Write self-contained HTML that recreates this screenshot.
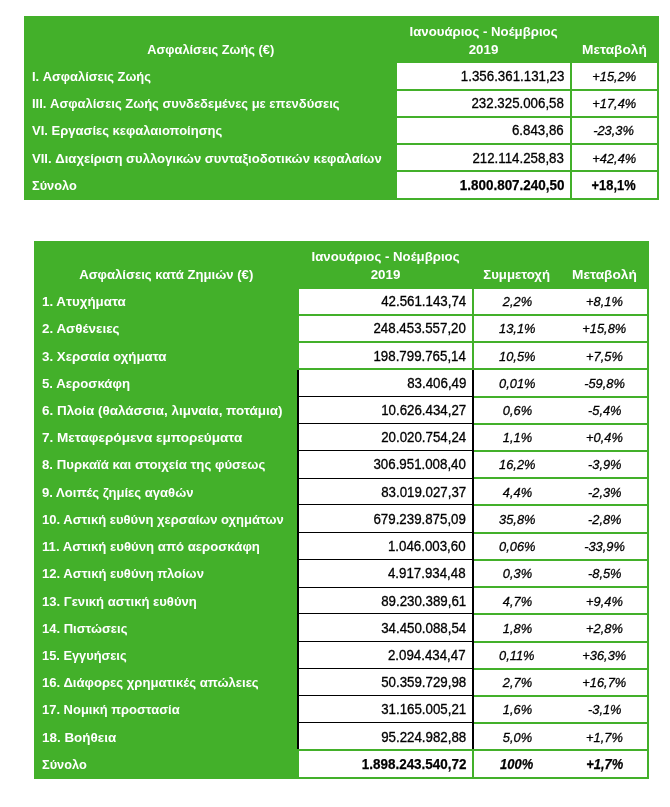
<!DOCTYPE html>
<html lang="el">
<head>
<meta charset="utf-8">
<title>Ασφαλίσεις</title>
<style>
html,body{margin:0;padding:0;background:#fff;}
body{width:670px;height:807px;position:relative;overflow:hidden;
 font-family:"Liberation Sans",sans-serif;font-size:13.3px;line-height:16px;color:#000;}
.g{position:absolute;background:#43B02A;}
.w{position:absolute;background:#fff;}
.k{position:absolute;background:#000;}
.t{position:absolute;white-space:nowrap;height:16px;}
.t span{display:inline-block;white-space:nowrap;}
.lb{color:#fff;font-weight:bold;text-align:left;}
.lb span{transform-origin:0 50%;}
.hd{color:#fff;font-weight:bold;text-align:center;}
.hd span{transform-origin:50% 50%;}
.n{text-align:right;font-size:13.8px;-webkit-text-stroke:0.3px #000;}
.n span{transform-origin:100% 50%;transform:scaleX(0.964);}
.p{text-align:center;font-style:italic;font-size:13.6px;-webkit-text-stroke:0.3px #000;}
.p span{transform-origin:50% 50%;transform:scaleX(0.945);}
.b{font-weight:bold;font-style:normal;font-size:13.8px;-webkit-text-stroke:0.25px #000;}
.n.b span{transform:scaleX(0.974);}
.p.b span{transform:scaleX(0.932);}
.bi{font-weight:bold;font-size:13.8px;-webkit-text-stroke:0.25px #000;}
.p.bi span{transform:scaleX(0.937);}
</style>
</head>
<body>

<div class="g" style="left:24px;top:16px;width:635px;height:184px"></div>
<div class="w" style="left:397px;top:63px;width:173px;height:26px"></div>
<div class="w" style="left:572px;top:63px;width:85px;height:26px"></div>
<div class="w" style="left:397px;top:91px;width:173px;height:25px"></div>
<div class="w" style="left:572px;top:91px;width:85px;height:25px"></div>
<div class="w" style="left:397px;top:118px;width:173px;height:25px"></div>
<div class="w" style="left:572px;top:118px;width:85px;height:25px"></div>
<div class="w" style="left:397px;top:145px;width:173px;height:25px"></div>
<div class="w" style="left:572px;top:145px;width:85px;height:25px"></div>
<div class="w" style="left:397px;top:172px;width:173px;height:26px"></div>
<div class="w" style="left:572px;top:172px;width:85px;height:26px"></div>
<div class="t hd" style="left:24px;top:42px;width:373px"><span style="transform:scaleX(0.9648)">Ασφαλίσεις Ζωής (€)</span></div>
<div class="t hd" style="left:397px;top:24px;width:173px"><span style="transform:scaleX(0.9932)">Ιανουάριος - Νοέμβριος</span></div>
<div class="t hd" style="left:397px;top:42px;width:173px"><span>2019</span></div>
<div class="t hd" style="left:571px;top:42px;width:87px"><span style="transform:scaleX(1.0304)">Μεταβολή</span></div>
<div class="t lb" style="left:32px;top:69px;width:362px"><span style="transform:scaleX(0.9693)">I. Ασφαλίσεις Ζωής</span></div>
<div class="t n" style="left:397px;top:69px;width:167px"><span>1.356.361.131,23</span></div>
<div class="t p" style="left:571px;top:69px;width:86px"><span>+15,2%</span></div>
<div class="t lb" style="left:32px;top:96px;width:362px"><span style="transform:scaleX(0.9755)">III. Ασφαλίσεις Ζωής συνδεδεμένες με επενδύσεις</span></div>
<div class="t n" style="left:397px;top:96px;width:167px"><span>232.325.006,58</span></div>
<div class="t p" style="left:571px;top:96px;width:86px"><span>+17,4%</span></div>
<div class="t lb" style="left:32px;top:123px;width:362px"><span style="transform:scaleX(0.9785)">VI. Εργασίες κεφαλαιοποίησης</span></div>
<div class="t n" style="left:397px;top:123px;width:167px"><span>6.843,86</span></div>
<div class="t p" style="left:571px;top:123px;width:86px"><span>-23,3%</span></div>
<div class="t lb" style="left:32px;top:151px;width:362px"><span style="transform:scaleX(0.9847)">VII. Διαχείριση συλλογικών συνταξιοδοτικών κεφαλαίων</span></div>
<div class="t n" style="left:397px;top:151px;width:167px"><span>212.114.258,83</span></div>
<div class="t p" style="left:571px;top:151px;width:86px"><span>+42,4%</span></div>
<div class="t lb" style="left:32px;top:178px;width:362px"><span style="transform:scaleX(0.9615)">Σύνολο</span></div>
<div class="t n b" style="left:397px;top:178px;width:167px"><span>1.800.807.240,50</span></div>
<div class="t p b" style="left:571px;top:178px;width:86px"><span>+18,1%</span></div>
<div class="g" style="left:34px;top:241px;width:615px;height:538px"></div>
<div class="w" style="left:299px;top:289px;width:173px;height:25px"></div>
<div class="w" style="left:474px;top:289px;width:173px;height:25px"></div>
<div class="w" style="left:299px;top:316px;width:173px;height:25px"></div>
<div class="w" style="left:474px;top:316px;width:173px;height:25px"></div>
<div class="w" style="left:299px;top:343px;width:173px;height:25px"></div>
<div class="w" style="left:474px;top:343px;width:173px;height:25px"></div>
<div class="w" style="left:299px;top:370px;width:173px;height:379px"></div>
<div class="w" style="left:474px;top:370px;width:173px;height:26px"></div>
<div class="w" style="left:474px;top:398px;width:173px;height:25px"></div>
<div class="w" style="left:474px;top:425px;width:173px;height:25px"></div>
<div class="w" style="left:474px;top:452px;width:173px;height:25px"></div>
<div class="w" style="left:474px;top:479px;width:173px;height:25px"></div>
<div class="w" style="left:474px;top:506px;width:173px;height:26px"></div>
<div class="w" style="left:474px;top:534px;width:173px;height:25px"></div>
<div class="w" style="left:474px;top:561px;width:173px;height:25px"></div>
<div class="w" style="left:474px;top:588px;width:173px;height:25px"></div>
<div class="w" style="left:474px;top:615px;width:173px;height:26px"></div>
<div class="w" style="left:474px;top:643px;width:173px;height:25px"></div>
<div class="w" style="left:474px;top:670px;width:173px;height:25px"></div>
<div class="w" style="left:474px;top:697px;width:173px;height:25px"></div>
<div class="w" style="left:474px;top:724px;width:173px;height:25px"></div>
<div class="w" style="left:299px;top:751px;width:173px;height:26px"></div>
<div class="w" style="left:474px;top:751px;width:173px;height:26px"></div>
<div class="k" style="left:297px;top:370px;width:2px;height:379px"></div>
<div class="k" style="left:472px;top:370px;width:2px;height:379px"></div>
<div class="k" style="left:299px;top:396px;width:173px;height:1px"></div>
<div class="k" style="left:299px;top:423px;width:173px;height:1px"></div>
<div class="k" style="left:299px;top:450px;width:173px;height:1px"></div>
<div class="k" style="left:299px;top:478px;width:173px;height:1px"></div>
<div class="k" style="left:299px;top:504px;width:173px;height:1px"></div>
<div class="k" style="left:299px;top:532px;width:173px;height:1px"></div>
<div class="k" style="left:299px;top:559px;width:173px;height:1px"></div>
<div class="k" style="left:299px;top:587px;width:173px;height:1px"></div>
<div class="k" style="left:299px;top:613px;width:173px;height:1px"></div>
<div class="k" style="left:299px;top:641px;width:173px;height:1px"></div>
<div class="k" style="left:299px;top:668px;width:173px;height:1px"></div>
<div class="k" style="left:299px;top:695px;width:173px;height:1px"></div>
<div class="k" style="left:299px;top:722px;width:173px;height:1px"></div>
<div class="t hd" style="left:34px;top:267px;width:265px"><span style="transform:scaleX(0.9868)">Ασφαλίσεις κατά Ζημιών (€)</span></div>
<div class="t hd" style="left:299px;top:249px;width:173px"><span style="transform:scaleX(0.9932)">Ιανουάριος - Νοέμβριος</span></div>
<div class="t hd" style="left:299px;top:267px;width:173px"><span>2019</span></div>
<div class="t hd" style="left:474px;top:267px;width:86px"><span style="transform:scaleX(0.9926)">Συμμετοχή</span></div>
<div class="t hd" style="left:560px;top:267px;width:88px"><span style="transform:scaleX(1.0304)">Μεταβολή</span></div>
<div class="t lb" style="left:42px;top:294px;width:254px"><span style="transform:scaleX(1.0047)">1. Ατυχήματα</span></div>
<div class="t n" style="left:299px;top:294px;width:167px"><span>42.561.143,74</span></div>
<div class="t p" style="left:474px;top:294px;width:86px"><span>2,2%</span></div>
<div class="t p" style="left:561px;top:294px;width:87px"><span>+8,1%</span></div>
<div class="t lb" style="left:42px;top:321px;width:254px"><span style="transform:scaleX(1.009)">2. Ασθένειες</span></div>
<div class="t n" style="left:299px;top:321px;width:167px"><span>248.453.557,20</span></div>
<div class="t p" style="left:474px;top:321px;width:86px"><span>13,1%</span></div>
<div class="t p" style="left:561px;top:321px;width:87px"><span>+15,8%</span></div>
<div class="t lb" style="left:42px;top:349px;width:254px"><span>3. Χερσαία οχήματα</span></div>
<div class="t n" style="left:299px;top:349px;width:167px"><span>198.799.765,14</span></div>
<div class="t p" style="left:474px;top:349px;width:86px"><span>10,5%</span></div>
<div class="t p" style="left:561px;top:349px;width:87px"><span>+7,5%</span></div>
<div class="t lb" style="left:42px;top:376px;width:254px"><span style="transform:scaleX(0.9951)">5. Αεροσκάφη</span></div>
<div class="t n" style="left:299px;top:376px;width:167px"><span>83.406,49</span></div>
<div class="t p" style="left:474px;top:376px;width:86px"><span>0,01%</span></div>
<div class="t p" style="left:561px;top:376px;width:87px"><span>-59,8%</span></div>
<div class="t lb" style="left:42px;top:403px;width:254px"><span style="transform:scaleX(1.0116)">6. Πλοία (θαλάσσια, λιμναία, ποτάμια)</span></div>
<div class="t n" style="left:299px;top:403px;width:167px"><span>10.626.434,27</span></div>
<div class="t p" style="left:474px;top:403px;width:86px"><span>0,6%</span></div>
<div class="t p" style="left:561px;top:403px;width:87px"><span>-5,4%</span></div>
<div class="t lb" style="left:42px;top:430px;width:254px"><span style="transform:scaleX(1.0198)">7. Μεταφερόμενα εμπορεύματα</span></div>
<div class="t n" style="left:299px;top:430px;width:167px"><span>20.020.754,24</span></div>
<div class="t p" style="left:474px;top:430px;width:86px"><span>1,1%</span></div>
<div class="t p" style="left:561px;top:430px;width:87px"><span>+0,4%</span></div>
<div class="t lb" style="left:42px;top:457px;width:254px"><span style="transform:scaleX(0.9925)">8. Πυρκαϊά και στοιχεία της φύσεως</span></div>
<div class="t n" style="left:299px;top:457px;width:167px"><span>306.951.008,40</span></div>
<div class="t p" style="left:474px;top:457px;width:86px"><span>16,2%</span></div>
<div class="t p" style="left:561px;top:457px;width:87px"><span>-3,9%</span></div>
<div class="t lb" style="left:42px;top:485px;width:254px"><span style="transform:scaleX(0.9838)">9. Λοιπές ζημίες αγαθών</span></div>
<div class="t n" style="left:299px;top:485px;width:167px"><span>83.019.027,37</span></div>
<div class="t p" style="left:474px;top:485px;width:86px"><span>4,4%</span></div>
<div class="t p" style="left:561px;top:485px;width:87px"><span>-2,3%</span></div>
<div class="t lb" style="left:42px;top:512px;width:254px"><span style="transform:scaleX(0.9792)">10. Αστική ευθύνη χερσαίων οχημάτων</span></div>
<div class="t n" style="left:299px;top:512px;width:167px"><span>679.239.875,09</span></div>
<div class="t p" style="left:474px;top:512px;width:86px"><span>35,8%</span></div>
<div class="t p" style="left:561px;top:512px;width:87px"><span>-2,8%</span></div>
<div class="t lb" style="left:42px;top:539px;width:254px"><span style="transform:scaleX(0.9923)">11. Αστική ευθύνη από αεροσκάφη</span></div>
<div class="t n" style="left:299px;top:539px;width:167px"><span>1.046.003,60</span></div>
<div class="t p" style="left:474px;top:539px;width:86px"><span>0,06%</span></div>
<div class="t p" style="left:561px;top:539px;width:87px"><span>-33,9%</span></div>
<div class="t lb" style="left:42px;top:566px;width:254px"><span style="transform:scaleX(0.9824)">12. Αστική ευθύνη πλοίων</span></div>
<div class="t n" style="left:299px;top:566px;width:167px"><span>4.917.934,48</span></div>
<div class="t p" style="left:474px;top:566px;width:86px"><span>0,3%</span></div>
<div class="t p" style="left:561px;top:566px;width:87px"><span>-8,5%</span></div>
<div class="t lb" style="left:42px;top:594px;width:254px"><span style="transform:scaleX(0.9832)">13. Γενική αστική ευθύνη</span></div>
<div class="t n" style="left:299px;top:594px;width:167px"><span>89.230.389,61</span></div>
<div class="t p" style="left:474px;top:594px;width:86px"><span>4,7%</span></div>
<div class="t p" style="left:561px;top:594px;width:87px"><span>+9,4%</span></div>
<div class="t lb" style="left:42px;top:621px;width:254px"><span style="transform:scaleX(0.9772)">14. Πιστώσεις</span></div>
<div class="t n" style="left:299px;top:621px;width:167px"><span>34.450.088,54</span></div>
<div class="t p" style="left:474px;top:621px;width:86px"><span>1,8%</span></div>
<div class="t p" style="left:561px;top:621px;width:87px"><span>+2,8%</span></div>
<div class="t lb" style="left:42px;top:648px;width:254px"><span style="transform:scaleX(0.9644)">15. Εγγυήσεις</span></div>
<div class="t n" style="left:299px;top:648px;width:167px"><span>2.094.434,47</span></div>
<div class="t p" style="left:474px;top:648px;width:86px"><span>0,11%</span></div>
<div class="t p" style="left:561px;top:648px;width:87px"><span>+36,3%</span></div>
<div class="t lb" style="left:42px;top:675px;width:254px"><span style="transform:scaleX(0.9863)">16. Διάφορες χρηματικές απώλειες</span></div>
<div class="t n" style="left:299px;top:675px;width:167px"><span>50.359.729,98</span></div>
<div class="t p" style="left:474px;top:675px;width:86px"><span>2,7%</span></div>
<div class="t p" style="left:561px;top:675px;width:87px"><span>+16,7%</span></div>
<div class="t lb" style="left:42px;top:702px;width:254px"><span style="transform:scaleX(0.9745)">17. Νομική προστασία</span></div>
<div class="t n" style="left:299px;top:702px;width:167px"><span>31.165.005,21</span></div>
<div class="t p" style="left:474px;top:702px;width:86px"><span>1,6%</span></div>
<div class="t p" style="left:561px;top:702px;width:87px"><span>-3,1%</span></div>
<div class="t lb" style="left:42px;top:730px;width:254px"><span style="transform:scaleX(1.0108)">18. Βοήθεια</span></div>
<div class="t n" style="left:299px;top:730px;width:167px"><span>95.224.982,88</span></div>
<div class="t p" style="left:474px;top:730px;width:86px"><span>5,0%</span></div>
<div class="t p" style="left:561px;top:730px;width:87px"><span>+1,7%</span></div>
<div class="t lb" style="left:42px;top:757px;width:254px"><span style="transform:scaleX(0.9615)">Σύνολο</span></div>
<div class="t n b" style="left:299px;top:757px;width:167px"><span>1.898.243.540,72</span></div>
<div class="t p bi" style="left:474px;top:757px;width:86px"><span>100%</span></div>
<div class="t p bi" style="left:561px;top:757px;width:87px"><span>+1,7%</span></div>
</body>
</html>
